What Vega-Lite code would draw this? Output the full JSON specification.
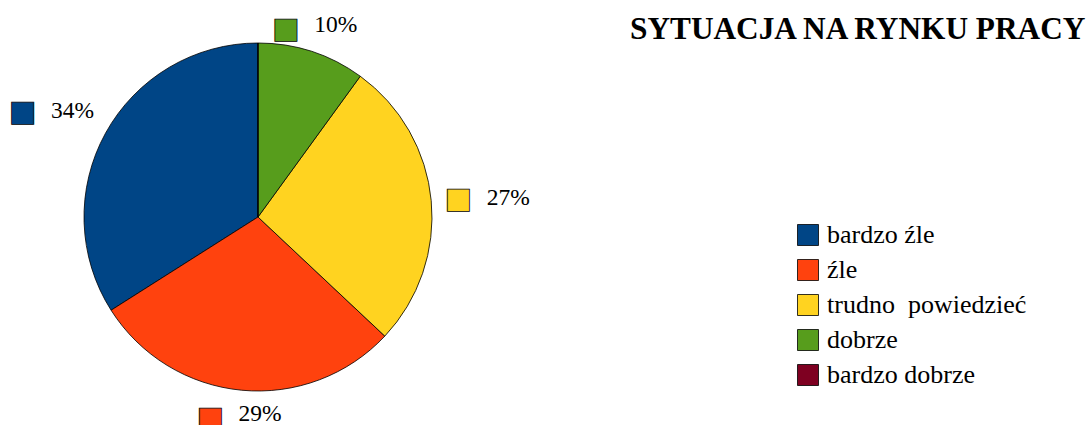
{
  "$schema": "https://vega.github.io/schema/vega-lite/v6.json",
  "autosize": {"type": "none"},
  "padding": {"left": 0, "top": 9, "right": 573, "bottom": 0},
  "width": 516,
  "height": 416,
  "background": "white",
  "title": {
    "text": "SYTUACJA NA RYNKU PRACY",
    "anchor": "start",
    "frame": "group",
    "dx": 630,
    "dy": 61,
    "offset": 0,
    "baseline": "alphabetic",
    "font": "Liberation Serif, Times New Roman, serif",
    "fontSize": 31.3,
    "fontWeight": "bold",
    "color": "#000000"
  },
  "config": {
    "view": {"stroke": null},
    "legend": {
      "orient": "none",
      "legendX": 795,
      "legendY": 213,
      "padding": 0,
      "symbolType": "square",
      "symbolSize": 441,
      "symbolStrokeColor": "#000000",
      "symbolStrokeWidth": 0.8,
      "symbolOpacity": 1,
      "labelFont": "Liberation Serif, Times New Roman, serif",
      "labelFontSize": 26,
      "labelColor": "#000000",
      "labelOffset": 6,
      "rowPadding": 9,
      "labelLimit": 400
    }
  },
  "data": {
    "values": [
      {"ocena": "bardzo źle", "procent": 34, "etykieta": "34%"},
      {"ocena": "źle", "procent": 29, "etykieta": "29%"},
      {"ocena": "trudno\u00a0 powiedzieć", "procent": 27, "etykieta": "27%"},
      {"ocena": "dobrze", "procent": 10, "etykieta": "10%"},
      {"ocena": "bardzo dobrze", "procent": 0, "etykieta": "0%"}
    ]
  },
  "encoding": {
    "theta": {"field": "procent", "type": "quantitative", "stack": true},
    "order": {"field": "procent", "type": "quantitative", "sort": "ascending"}
  },
  "layer": [
    {
      "mark": {"type": "arc", "radius": 174, "stroke": "#000000", "strokeWidth": 0.8},
      "encoding": {
        "color": {
          "field": "ocena",
          "type": "nominal",
          "scale": {
            "domain": ["bardzo źle", "źle", "trudno\u00a0 powiedzieć", "dobrze", "bardzo dobrze"],
            "range": ["#004586", "#ff420e", "#ffd320", "#579d1c", "#7e0021"]
          },
          "legend": {"title": null}
        }
      }
    },
    {
      "transform": [{"filter": "datum.procent > 0"}],
      "mark": {
        "type": "text",
        "radius": 190,
        "font": "DejaVu Sans",
        "fontSize": 29,
        "align": "center",
        "baseline": "middle",
        "stroke": "#000000",
        "strokeWidth": 0.8,
        "dx": {"expr": "datum.ocena == 'dobrze' ? -31 : datum.ocena == 'źle' ? -30 : datum.ocena == 'bardzo źle' ? -69 : 11"},
        "dy": {"expr": "datum.ocena == 'dobrze' ? -7 : datum.ocena == 'źle' ? 12 : datum.ocena == 'bardzo źle' ? -13 : 0"}
      },
      "encoding": {
        "text": {"value": "■"},
        "color": {"field": "ocena", "type": "nominal", "legend": null}
      }
    },
    {
      "transform": [{"filter": "datum.procent > 0"}],
      "mark": {
        "type": "text",
        "radius": 190,
        "font": "Liberation Serif, Times New Roman, serif",
        "fontSize": 23.5,
        "color": "#000000",
        "align": "center",
        "baseline": "middle",
        "dx": {"expr": "datum.ocena == 'dobrze' ? 19 : datum.ocena == 'źle' ? 20 : datum.ocena == 'bardzo źle' ? -19 : 61"},
        "dy": {"expr": "datum.ocena == 'dobrze' ? -11 : datum.ocena == 'źle' ? 8 : datum.ocena == 'bardzo źle' ? -14 : -1"}
      },
      "encoding": {
        "text": {"field": "etykieta", "type": "nominal"}
      }
    }
  ]
}
